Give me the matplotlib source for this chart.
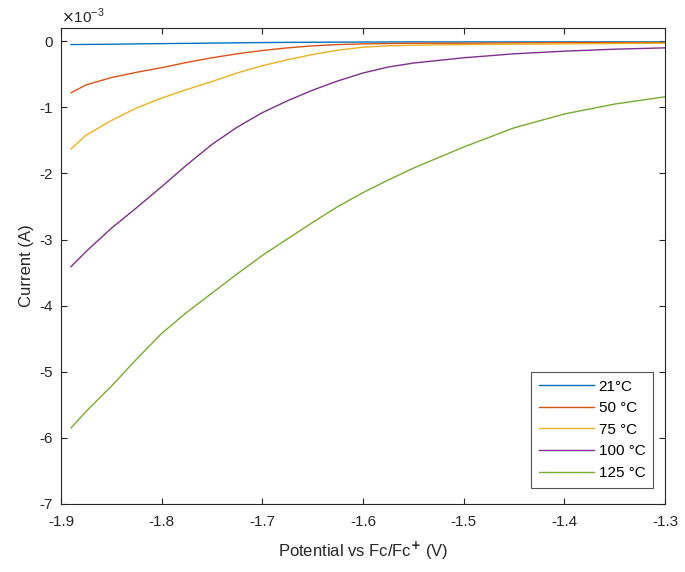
import numpy as np
import matplotlib
matplotlib.use('Agg')
from matplotlib import pyplot as plt

plt.rcParams['font.family'] = ['Liberation Sans', 'DejaVu Sans']
plt.rcParams['axes.unicode_minus'] = False

# potential (V) and currents (x1e-3 A)
potential = [-1.89, -1.875, -1.85, -1.825, -1.8, -1.775, -1.75, -1.725, -1.7, -1.675,
             -1.65, -1.625, -1.6, -1.575, -1.55, -1.5, -1.45, -1.4, -1.35, -1.3]
i_21 = [-0.05, -0.048, -0.045, -0.04, -0.036, -0.032, -0.028, -0.024, -0.02, -0.017,
        -0.015, -0.013, -0.012, -0.011, -0.01, -0.01, -0.01, -0.01, -0.01, -0.01]
i_50 = [-0.78, -0.66, -0.55, -0.47, -0.40, -0.32, -0.25, -0.19, -0.14, -0.10,
        -0.07, -0.05, -0.04, -0.035, -0.03, -0.03, -0.025, -0.02, -0.02, -0.02]
i_75 = [-1.63, -1.42, -1.20, -1.01, -0.86, -0.73, -0.61, -0.48, -0.37, -0.28,
        -0.20, -0.135, -0.09, -0.07, -0.06, -0.05, -0.045, -0.04, -0.035, -0.03]
i_100 = [-3.41, -3.18, -2.83, -2.52, -2.20, -1.87, -1.56, -1.30, -1.08, -0.90,
         -0.74, -0.60, -0.48, -0.39, -0.33, -0.25, -0.19, -0.15, -0.12, -0.10]
i_125 = [-5.85, -5.60, -5.22, -4.81, -4.42, -4.10, -3.81, -3.52, -3.24, -2.99,
         -2.74, -2.50, -2.29, -2.10, -1.92, -1.60, -1.31, -1.10, -0.95, -0.84]
labels = ['21°C', '50 °C', '75 °C', '100 °C', '125 °C']
colors = ['#0072BD', '#D95319', '#EDB120', '#7E2F8E', '#77AC30']

fig = plt.figure(figsize=(6.85, 5.72), dpi=100)
ax = fig.add_axes([0.089, 0.119, 0.882, 0.832])

for y, lab, c in zip([i_21, i_50, i_75, i_100, i_125], labels, colors):
    ax.plot(potential, y, color=c, lw=1.0, label=lab)

ax.set_xlim(-1.9, -1.3)
ax.set_ylim(-7, 0.2)
ax.set_xticks(np.arange(-1.9, -1.25, 0.1))
ax.set_xticklabels(['-1.9', '-1.8', '-1.7', '-1.6', '-1.5', '-1.4', '-1.3'])
ax.set_yticks(range(-7, 1))
ax.tick_params(direction='in', top=True, right=True, labelsize=11, colors='#262626',
               length=4, width=0.8)
ax.tick_params(axis='x', pad=8)
ax.tick_params(axis='y', pad=6)
for s in ax.spines.values():
    s.set_color('#262626')
    s.set_linewidth(0.8)

ax.set_xlabel('Potential vs Fc/Fc$^{\\mathbf{+}}$ (V)', fontsize=12, color='#262626',
              labelpad=8)
ax.set_ylabel('Current (A)', fontsize=12, color='#262626')
ax.text(0.0, 1.005, '$\\times$10$^{\\mathregular{-3}}$', transform=ax.transAxes,
        fontsize=11, color='#262626', va='bottom', ha='left')

leg = ax.legend(loc='lower right', bbox_to_anchor=(0.98, 0.034), borderaxespad=0,
                fontsize=11, frameon=True, fancybox=False, handlelength=3.6,
                labelspacing=0.5, borderpad=0.5, handletextpad=0.3)
leg.get_frame().set_edgecolor('#262626')
leg.get_frame().set_linewidth(0.8)

fig.savefig('out.png', dpi=100)
